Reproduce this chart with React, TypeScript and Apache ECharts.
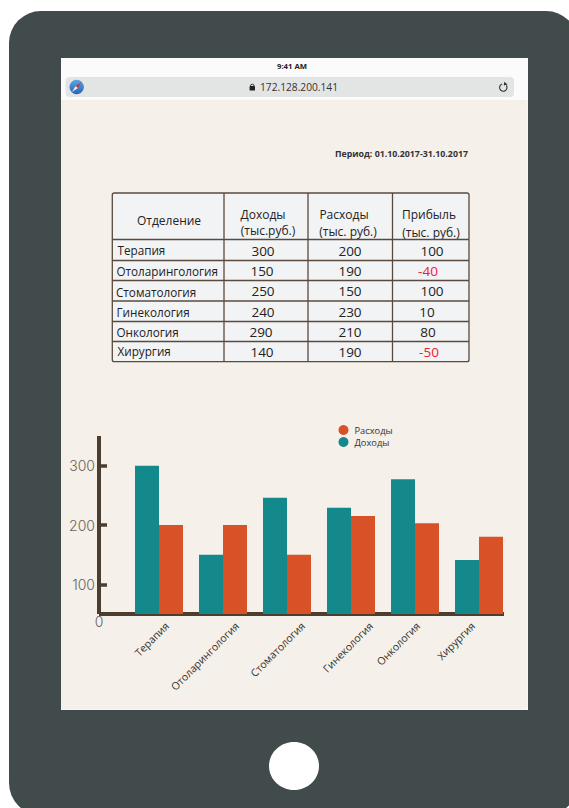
import React, { useEffect, useRef } from "react";
import * as echarts from "echarts";

// ---- data ----
const departments = ["Терапия", "Отоларингология", "Стоматология", "Гинекология", "Онкология", "Хирургия"];
const tableIncome = ["300", "150", "250", "240", "290", "140"];
const tableExpense = ["200", "190", "150", "230", "210", "190"];
const tableProfit = ["100", "-40", "100", "10", "80", "-50"];
const chartIncome = [300, 150, 246, 229, 277, 141];
const chartExpense = [200, 200, 150, 215, 203, 180];
const yTicks = [100, 200, 300];

// ---- layout of the picture (not data) ----
const FONT = '"Open Sans", sans-serif';
const BORDER = "#5a4a3d";
const AXIS = "#4d3d2f";
const TEAL = "#14898b";
const ORANGE = "#d85127";
const rowLines = [239.5, 260.5, 280.5, 301, 321.5, 341.5];
const colLines = [224, 308, 392.5];
const rowText = [251, 271, 291, 312, 332, 352];
const deptText = [250, 271, 291.5, 312, 332, 351];
const deptLeft = [117.5, 116.5, 116, 116.5, 116.5, 117.5];
const incomeX = [263, 262, 263, 263, 261, 262];
const profitX = [432, 428, 432, 427, 428, 429];
const labelEndX = [10, 16, 18, 22, 5, -4];

function txt(text: string, x: number, y: number, size: number, extra: any = {}) {
  return {
    type: "text",
    x,
    y,
    z: 1,
    style: {
      text,
      fontSize: size,
      fontFamily: FONT,
      fill: "#222222",
      align: "center",
      verticalAlign: "middle",
      ...extra,
    },
  };
}

function line(x1: number, y1: number, x2: number, y2: number) {
  return { type: "line", z: 1, shape: { x1, y1, x2, y2 }, style: { stroke: BORDER, lineWidth: 1.3 } };
}

function buildGraphic() {
  const els: any[] = [
    // device
    { type: "rect", z: -10, shape: { x: 9, y: 11, width: 569, height: 804, r: 32 }, style: { fill: "#424b4c" } },
    { type: "rect", z: -9, shape: { x: 61, y: 58, width: 467, height: 652 }, style: { fill: "#fbfbfb" } },
    { type: "rect", z: -8, shape: { x: 61, y: 100, width: 466.5, height: 609.5, r: [0, 0, 4, 0] }, style: { fill: "#f5f0e9" } },
    { type: "rect", z: -7, shape: { x: 65.5, y: 77, width: 448.5, height: 20, r: 4 }, style: { fill: "#e3e5e5" } },
    { type: "circle", z: 1, shape: { cx: 76.7, cy: 87, r: 7.2 }, style: {
      fill: new echarts.graphic.LinearGradient(0, 0, 0, 1, [
        { offset: 0, color: "#5aa6e6" },
        { offset: 1, color: "#2c62b4" },
      ]),
    } },
    { type: "polygon", z: 2, shape: { points: [[81.5, 82], [75.6, 86.2], [77.8, 88]] }, style: { fill: "#d8342c" } },
    { type: "polygon", z: 2, shape: { points: [[72, 92], [75.6, 86.2], [77.8, 88]] }, style: { fill: "#f4f4f4" } },
    // lock
    { type: "rect", z: 1, shape: { x: 249.6, y: 86, width: 5.4, height: 4.6, r: 0.6 }, style: { fill: "#222" } },
    { type: "arc", z: 1, shape: { cx: 252.3, cy: 86, r: 1.8, startAngle: Math.PI, endAngle: 0, clockwise: true }, style: { fill: "none", stroke: "#222", lineWidth: 0.9 } },
    // reload
    { type: "arc", z: 1, shape: { cx: 503.3, cy: 87.5, r: 3.7, startAngle: -0.6, endAngle: -1.9 + Math.PI * 2, clockwise: true }, style: { fill: "none", stroke: "#333", lineWidth: 1.1 } },
    { type: "polygon", z: 1, shape: { points: [[504.2, 81.7], [507.6, 84.4], [503.8, 85.6]] }, style: { fill: "#333" } },
    // home button
    { type: "ellipse", z: 1, shape: { cx: 294, cy: 766, rx: 25, ry: 24 }, style: { fill: "#ffffff" } },
    txt("9:41 AM", 292, 66, 7.7, { fontWeight: 700 }),
    txt("172.128.200.141", 299, 87, 10.2, { fill: "#333" }),
    txt("Период: 01.10.2017-31.10.2017", 468, 154, 8.8, { align: "right", fontWeight: 700, fill: "#333" }),
    // table
    { type: "rect", z: 0, shape: { x: 112.3, y: 193, width: 356.7, height: 168.7, r: 2 }, style: { fill: "#f2f3f5", stroke: BORDER, lineWidth: 1.3 } },
    txt("Отделение", 169, 220.5, 12),
    txt("Доходы", 263, 214, 12),
    txt("(тыс.руб.)", 268, 230, 12),
    txt("Расходы", 344, 214, 12),
    txt("(тыс. руб.)", 348, 231, 12),
    txt("Прибыль", 429, 214.5, 12),
    txt("(тыс. руб.)", 431, 232, 12),
  ];
  rowLines.forEach((y) => els.push(line(112.3, y, 469, y)));
  colLines.forEach((x) => els.push(line(x, 193, x, 361.7)));
  departments.forEach((d, i) => {
    els.push(txt(d, deptLeft[i], deptText[i], 11.7, { align: "left" }));
    els.push(txt(tableIncome[i], incomeX[i], rowText[i], 13.5));
    els.push(txt(tableExpense[i], 350, rowText[i], 13.5));
    const neg = tableProfit[i].startsWith("-");
    els.push(txt(tableProfit[i], profitX[i], rowText[i], 13.5, neg ? { fill: "#f0202f" } : {}));
  });
  els.push(txt("0", 99, 621.5, 14, { fill: "#6b6259", fontFamily: "Inter, sans-serif", fontWeight: 300 }));
  return els;
}

export default function App() {
  const ref = useRef<HTMLDivElement>(null);
  useEffect(() => {
    document.body.style.margin = "0";
    const chart = echarts.init(ref.current!, null, { renderer: "svg" });
    chart.setOption({
      animation: false,
      backgroundColor: "#ffffff",
      textStyle: { fontFamily: FONT },
      legend: {
        orient: "vertical",
        left: 338.5,
        top: 425,
        icon: "circle",
        itemWidth: 10,
        itemHeight: 10,
        itemGap: 2,
        padding: 0,
        data: ["Расходы", "Доходы"],
        textStyle: { fontSize: 9.3, color: "#333", fontFamily: FONT, padding: [0, 0, 0, 1] },
      },
      grid: [
        { left: 99, top: 436, width: 405, height: 178 },
        { left: 127, top: 436, width: 384, height: 178 },
      ],
      xAxis: [
        {
          gridIndex: 0,
          type: "value",
          min: 0,
          max: 1,
          axisLine: { show: true, onZero: false, lineStyle: { color: AXIS, width: 4, cap: "butt" } },
          axisTick: { show: false },
          axisLabel: { show: false },
          splitLine: { show: false },
        },
        {
          gridIndex: 1,
          type: "category",
          data: departments,
          axisLine: { show: false },
          axisTick: { show: false },
          axisLabel: { show: false },
        },
      ],
      yAxis: [
        {
          gridIndex: 0,
          type: "value",
          min: 50,
          max: 350,
          axisLine: { show: true, onZero: false, lineStyle: { color: AXIS, width: 4, cap: "butt" } },
          axisTick: { show: true, inside: true, length: 8, customValues: yTicks, lineStyle: { color: AXIS, width: 3.5 } },
          axisLabel: {
            customValues: yTicks,
            margin: 4,
            fontSize: 14,
            color: "#6b6259",
            fontFamily: "Inter, sans-serif",
            fontWeight: 300,
          },
          splitLine: { show: false },
        },
        {
          gridIndex: 1,
          type: "value",
          min: 50,
          max: 350,
          axisLine: { show: false },
          axisTick: { show: false },
          axisLabel: { show: false },
          splitLine: { show: false },
        },
      ],
      series: [
        {
          name: "Доходы",
          type: "bar",
          xAxisIndex: 1,
          yAxisIndex: 1,
          barWidth: 24,
          barGap: 0,
          itemStyle: { color: TEAL },
          data: chartIncome,
        },
        {
          name: "Расходы",
          type: "bar",
          xAxisIndex: 1,
          yAxisIndex: 1,
          barWidth: 24,
          barGap: 0,
          itemStyle: { color: ORANGE },
          data: chartExpense,
        },
        {
          type: "custom",
          name: "labels",
          xAxisIndex: 1,
          yAxisIndex: 1,
          silent: true,
          clip: false,
          data: departments.map((_, i) => [i, 50]),
          renderItem: (_p: any, api: any) => {
            const i = api.value(0);
            const p = api.coord([i, api.value(1)]);
            return {
              type: "text",
              x: p[0] + labelEndX[i] - 2,
              y: p[1] + 10,
              rotation: Math.PI / 4,
              style: {
                text: departments[i],
                fontSize: 10.5,
                fontFamily: FONT,
                fill: "#333333",
                align: "right",
                verticalAlign: "middle",
              },
            };
          },
        },
      ],
      graphic: { elements: buildGraphic() },
    });
    return () => chart.dispose();
  }, []);
  return <div ref={ref} style={{ position: "absolute", left: 0, top: 0, width: 569, height: 808 }} />;
}
